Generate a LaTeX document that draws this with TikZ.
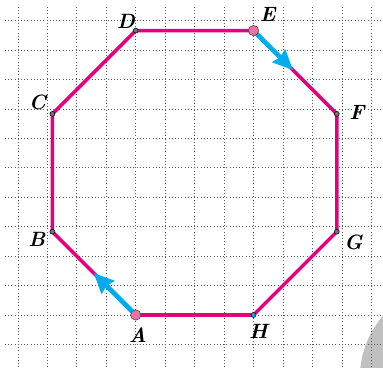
\documentclass[tikz,border=0pt]{standalone}
\usetikzlibrary{calc,arrows.meta}

\definecolor{octmag}{RGB}{228,0,124}
\definecolor{arrcyan}{RGB}{0,172,236}
\definecolor{ptpink}{RGB}{236,112,168}
\definecolor{pagegray}{RGB}{192,192,192}

\begin{document}
\begin{tikzpicture}[
  gridline/.style={black!65, line width=0.6pt, dash pattern=on 0.6pt off 2.5pt},
  side/.style={octmag, line width=3.4pt, line join=round},
  corner/.style={circle, draw=black, fill=black!55, line width=0.5pt, inner sep=0pt, minimum size=4.8pt},
  start/.style={circle, draw=black!75, fill=ptpink, line width=0.5pt, inner sep=0pt, minimum size=10pt},
  move/.style={arrcyan, line width=4.5pt, -{Stealth[length=6.8mm,width=6mm,inset=0.6mm]}},
  lbl/.style={font=\fontsize{20}{20}\selectfont\bfseries\itshape, inner sep=0pt},
]

% ---------- frame of the page ----------
\clip (-4.608,-1.766) rectangle (8.397,10.696);
\fill[pagegray] (10.84,-2.14) circle (3.23);

% ---------- dotted squares ----------
\foreach \x in {-4,...,8}
  \draw[gridline] (\x,-1.766) -- (\x,10.53);
\foreach \y in {-1,...,10}
  \draw[gridline] (-4.44,\y) -- (8.397,\y);

% ---------- corners of the octagon ----------
\coordinate (A) at (0,0);
\coordinate (B) at (-2.828,2.828);
\coordinate (C) at (-2.828,6.828);
\coordinate (D) at (0,9.657);
\coordinate (E) at (4,9.657);
\coordinate (F) at (6.828,6.828);
\coordinate (G) at (6.828,2.828);
\coordinate (H) at (4,0);

\draw[side] (A) -- (B) -- (C) -- (D) -- (E) -- (F) -- (G) -- (H) -- cycle;

% ---------- the two moves ----------
\coordinate (Atip) at ($(A)!2.02cm!(B)$);
\coordinate (Etip) at ($(E)!1.9cm!(F)$);
\draw[move] (A) -- (Atip);
\draw[move] (E) -- (Etip);

% ---------- points ----------
\node[corner] (pB) at (B) {};
\node[corner] (pC) at (C) {};
\node[corner] (pD) at (D) {};
\node[corner] (pF) at (F) {};
\node[corner] (pG) at (G) {};
\node[corner, fill=arrcyan] (pH) at (H) {};
\node[start] (pA) at (A) {};
\node[start] (pE) at (E) {};

% ---------- letters ----------
\node[lbl] (lA) at (0.07,-0.68) {A};
\node[lbl] (lB) at (-3.36,2.57) {B};
\node[lbl] (lC) at (-3.34,7.22) {C};
\node[lbl] (lD) at (-0.33,9.97) {D};
\node[lbl] (lE) at (4.48,10.19) {E};
\node[lbl] (lF) at (7.51,6.88) {F};
\node[lbl] (lG) at (7.39,2.46) {G};
\node[lbl] (lH) at (4.17,-0.57) {H};

\end{tikzpicture}
\end{document}
